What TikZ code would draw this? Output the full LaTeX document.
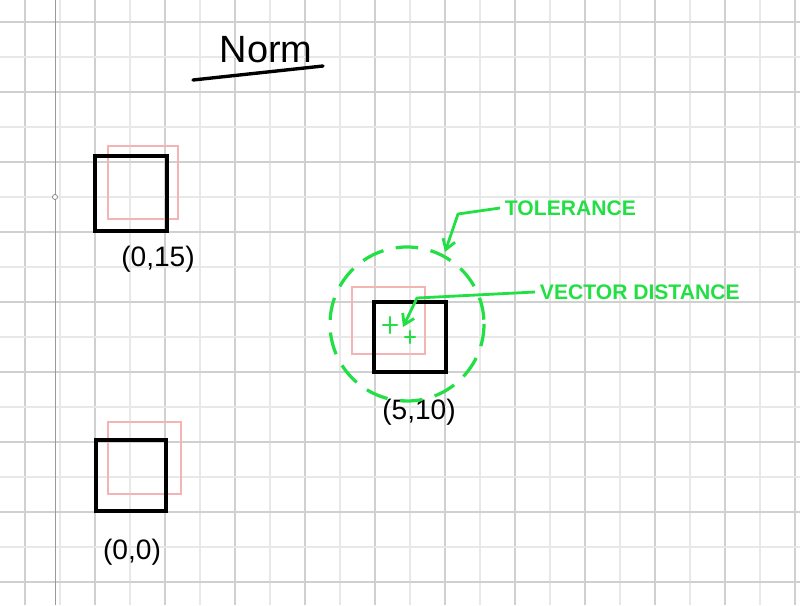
\documentclass[tikz,border=0pt]{standalone}
\usepackage{fontspec}
\setmainfont{Liberation Sans}
\usetikzlibrary{arrows.meta}

\definecolor{gridmajor}{HTML}{D0D0D0}
\definecolor{gridminor}{HTML}{E8E8E8}
\definecolor{ghost}{HTML}{F4B4B4}
\definecolor{marker}{HTML}{22E044}

\begin{document}
\begin{tikzpicture}[x=0.025cm, y=-0.025cm,
    box/.style={draw=black, line width=2.2pt},
    shadow/.style={draw=ghost, line width=1.3pt},
    coord/.style={font=\fontsize{20}{22}\selectfont},
    note/.style={text=marker, font=\bfseries\fontsize{15}{17}\selectfont},
    pointer/.style={draw=marker, line width=2pt, line join=round, -{Straight Barb[length=7pt, width=9pt]}}]
    \useasboundingbox (0,0) rectangle (800,605);
    \fill[white] (0,0) rectangle (800,605);

    % Paper grid
    \foreach \k in {0,...,22} {
        \pgfmathsetmacro\gx{25+35*\k}
        \ifodd\k
            \draw[gridminor, line width=1.2pt] (\gx,0) -- (\gx,605);
        \else
            \draw[gridmajor, line width=2pt] (\gx,0) -- (\gx,605);
        \fi
    }
    \foreach \k in {0,...,16} {
        \pgfmathsetmacro\gy{22+35*\k}
        \ifodd\k
            \draw[gridminor, line width=1.2pt] (0,\gy) -- (800,\gy);
        \else
            \draw[gridmajor, line width=2pt] (0,\gy) -- (800,\gy);
        \fi
    }
    \draw[gray!80, line width=0.4pt] (55,0) -- (55,605);
    \draw[gray, fill=white, line width=0.5pt] (55,197) circle[radius=2.5];

    % Title
    \node [font=\fontsize{27}{30}\selectfont] (title) at (266,50) {Norm};
    \draw[line width=2.4pt, line cap=round] (193,80) -- (323,66);

    % Target boxes and their shifted copies
    \draw[shadow] (108,146) rectangle (178,219);
    \draw[box] (95,156) rectangle (167,231);
    \node [coord] (high) at (158,259) {(0,15)};

    \draw[shadow] (108,422) rectangle (181,494);
    \draw[box] (96,440) rectangle (166,511);
    \node [coord] (origin) at (132,552) {(0,0)};

    \draw[shadow] (352,287) rectangle (425,354);
    \draw[box] (374,302) rectangle (446,372);
    \node [coord] (far) at (419,412) {(5,10)};

    % Tolerance ring
    \draw[marker, line width=2.3pt, dash pattern=on 16pt off 9pt] (407,324) circle[radius=77];

    % Labels
    \node [note, anchor=west] (tol) at (500,208) {TOLERANCE};
    \node [note, anchor=west] (vec) at (535,292) {VECTOR DISTANCE};
    \coordinate (tolTip) at (445,252);
    \coordinate (vecTip) at (403,327);
    \draw[pointer] (tol.west) -- ++(-42,6) -- (tolTip);
    \draw[pointer] (vec.west) -- ++(-118,6) -- (vecTip);

    % Centre marks
    \draw[marker, line width=1.5pt, line cap=round] (383,325) -- (397,325) (390,317) -- (390,333);
    \draw[marker, line width=1.5pt, line cap=round] (405,337) -- (415,337) (410,331) -- (410,343);
\end{tikzpicture}
\end{document}
